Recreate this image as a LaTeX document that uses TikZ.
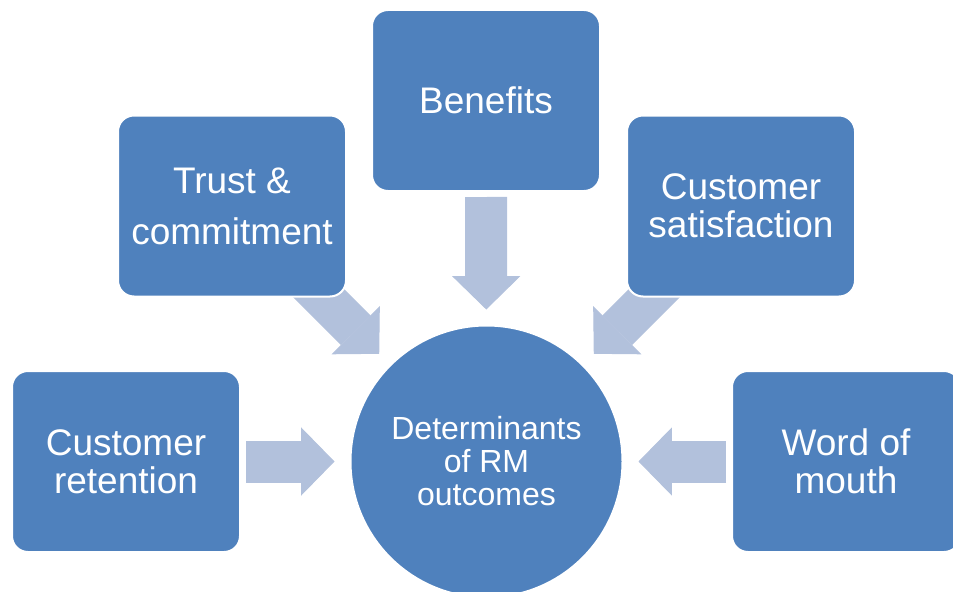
\documentclass[tikz,border=0pt]{standalone}
\usepackage{fontspec}
\setmainfont{Liberation Sans}
\usetikzlibrary{arrows.meta}
\definecolor{boxblue}{HTML}{4F81BD}
\definecolor{arrowblue}{RGB}{178,193,220}
\pgfdeclarelayer{bg}
\pgfsetlayers{bg,main}

\begin{document}
\begin{tikzpicture}[x=0.75pt, y=-0.75pt,
    factor/.style={rectangle, rounded corners=12pt, minimum width=171pt, minimum height=135.75pt, inner sep=0pt, fill=boxblue, draw=white, line width=1.5pt, text=white, align=center, font=\fontsize{27.75}{28.5}\selectfont},
    outcome/.style={circle, minimum size=204pt, inner sep=0pt, fill=boxblue, draw=white, line width=1.5pt, text=white, align=center, font=\fontsize{24}{24.75}\selectfont},
    blockarrow/.style={draw=arrowblue, line width=31.5pt, -{Triangle[width=51pt, length=25pt, line width=0.75pt]}, shorten >=11.25pt}]
    \useasboundingbox (0,0) rectangle (953,592);

    \node [outcome] (rm_outcomes) at (486.5, 461.5) {Determinants\\of RM\\outcomes};
    \node [factor] (benefits) at (486, 100.5) {Benefits};
    \node [factor] (trust_commit) at (232, 206) {Trust \&\\[9.75pt]commitment};
    \node [factor] (cust_satisf) at (741, 206) {Customer\\satisfaction};
    \node [factor] (cust_retention) at (126, 461.5) {Customer\\retention};
    \node [factor] (word_mouth) at (846, 461.5) {Word of\\mouth};

    % arrows sit under the boxes
    \begin{pgfonlayer}{bg}
        \draw [blockarrow, shorten <=3.75pt] (benefits) -- (rm_outcomes);
        \draw [blockarrow, shorten <=-30pt] (trust_commit) -- (rm_outcomes);
        \draw [blockarrow, shorten <=-30pt] (cust_satisf) -- (rm_outcomes);
        \draw [blockarrow, shorten <=3.75pt] (cust_retention) -- (rm_outcomes);
        \draw [blockarrow, shorten <=3.75pt] (word_mouth) -- (rm_outcomes);
    \end{pgfonlayer}
\end{tikzpicture}
\end{document}
